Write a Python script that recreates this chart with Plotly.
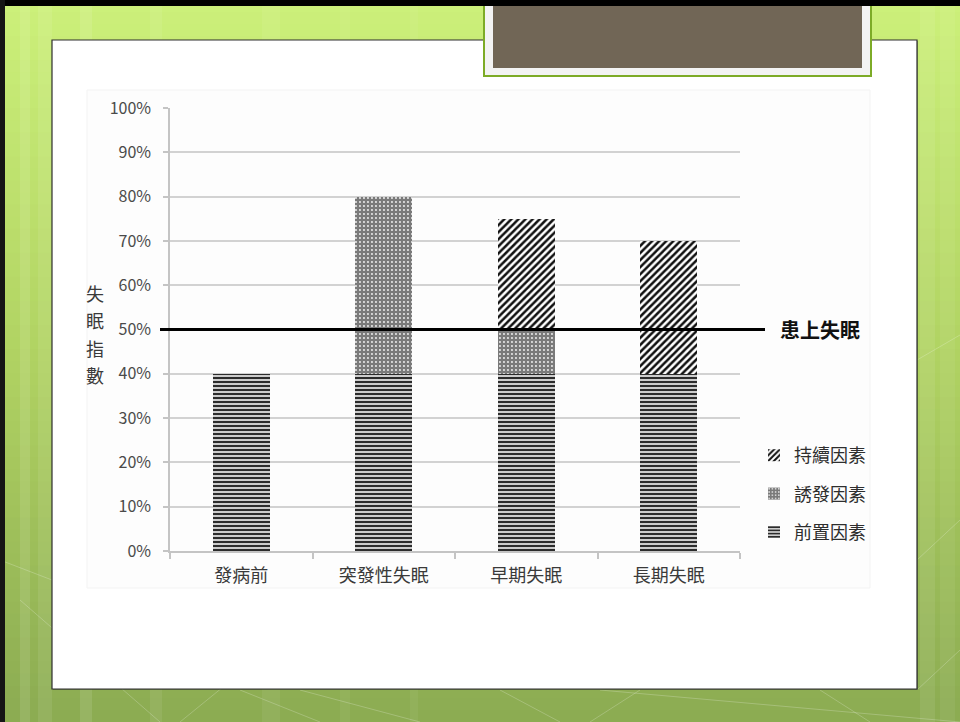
import plotly.graph_objects as go

# ---- data ----
categories = ["發病前", "突發性失眠", "早期失眠", "長期失眠"]
predisposing = [0.40, 0.40, 0.40, 0.40]   # 前置因素
precipitating = [0.00, 0.40, 0.10, 0.00]  # 誘發因素
perpetuating = [0.00, 0.00, 0.25, 0.30]   # 持續因素
onset_level = 0.50                        # 患上失眠
onset_label = "患上失眠"
y_title_chars = ["失", "眠", "指", "數"]
y_ticks = [0.0, 0.1, 0.2, 0.3, 0.4, 0.5, 0.6, 0.7, 0.8, 0.9, 1.0]
y_tick_text = ["0%", "10%", "20%", "30%", "40%", "50%", "60%", "70%", "80%", "90%", "100%"]

W, H = 960, 722
ML, MR, MT, MB = 170, 220, 108, 171
PW, PH = W - ML - MR, H - MT - MB
FONT = "Noto Sans CJK TC, Noto Sans CJK SC, sans-serif"


def px(x):
    return (x - ML) / PW


def py(y):
    return (H - MB - y) / PH


fig = go.Figure()

fig.add_bar(
    x=categories, y=predisposing, name="前置因素", legendgroup="pre", legendrank=3,
    marker=dict(color="white", line=dict(width=0),
                pattern=dict(shape="-", fgcolor="#2c2c2c", bgcolor="#f4f4f4",
                             fgopacity=1, fillmode="replace",
                             size=4, solidity=0.6)),
)
fig.add_bar(
    x=categories, y=precipitating, name="誘發因素", legendgroup="trig", legendrank=2,
    marker=dict(color="white", line=dict(width=0),
                pattern=dict(shape=".", fgcolor="#f4f4f4", bgcolor="#7a7a7a",
                             fgopacity=1, fillmode="replace",
                             size=4, solidity=0.18)),
)
fig.add_bar(
    x=categories, y=perpetuating, name="持續因素", legendgroup="keep", legendrank=1,
    marker=dict(color="white", line=dict(width=0),
                pattern=dict(shape="/", fgcolor="#111111", bgcolor="white",
                             fgopacity=1, fillmode="replace",
                             size=5, solidity=0.5)),
)

shapes = []

# slide background: vertical green gradient built from thin bands
top_c = (204, 240, 122)
mid_c = (176, 210, 98)
bot_c = (139, 171, 82)
n_bands = 60
for i in range(n_bands):
    t = (i + 0.5) / n_bands
    if t < 0.5:
        a, b, f = top_c, mid_c, t / 0.5
    else:
        a, b, f = mid_c, bot_c, (t - 0.5) / 0.5
    c = tuple(round(a[k] + (b[k] - a[k]) * f) for k in range(3))
    y0 = H * i / n_bands
    y1 = H * (i + 1) / n_bands + 1
    shapes.append(dict(type="rect", xref="paper", yref="paper", layer="below",
                       x0=px(0), x1=px(W), y0=py(y1), y1=py(y0),
                       fillcolor="rgb(%d,%d,%d)" % c, line=dict(width=0)))

# soft vertical light streaks
for x0, x1, op in [(20, 30, 0.10), (38, 52, 0.08), (80, 92, 0.10), (150, 162, 0.07),
                   (262, 280, 0.06), (340, 350, 0.05), (410, 418, 0.05),
                   (920, 935, 0.08), (940, 955, 0.06)]:
    shapes.append(dict(type="rect", xref="paper", yref="paper", layer="below",
                       x0=px(x0), x1=px(x1), y0=py(H), y1=py(0),
                       fillcolor="white", opacity=op, line=dict(width=0)))

# faint diagonal decorative lines
for (x0, y0, x1, y1) in [(20, 600, 160, 722), (180, 722, 330, 600), (300, 690, 420, 722),
                         (240, 690, 320, 722), (590, 722, 640, 690), (500, 690, 560, 722),
                         (600, 690, 960, 722), (820, 690, 870, 722), (917, 560, 960, 520),
                         (917, 360, 960, 335), (0, 560, 52, 580), (917, 690, 960, 650)]:
    shapes.append(dict(type="line", xref="paper", yref="paper", layer="below",
                       x0=px(x0), x1=px(x1), y0=py(y0), y1=py(y1),
                       line=dict(color="rgba(255,255,255,0.22)", width=1)))

# white content panel with a thin dark frame
shapes.append(dict(type="rect", xref="paper", yref="paper", layer="below",
                   x0=px(53), x1=px(918), y0=py(690), y1=py(41),
                   fillcolor="rgba(40,40,40,0.35)", line=dict(width=0)))
shapes.append(dict(type="rect", xref="paper", yref="paper", layer="below",
                   x0=px(52), x1=px(917), y0=py(689), y1=py(40),
                   fillcolor="white", line=dict(color="#2e2e2e", width=1.2)))

# faint chart-area backdrop
shapes.append(dict(type="rect", xref="paper", yref="paper", layer="below",
                   x0=px(87), x1=px(870), y0=py(588), y1=py(90),
                   fillcolor="#fdfdfd", line=dict(color="#f3f3f3", width=1)))

# title plate at the top
shapes.append(dict(type="rect", xref="paper", yref="paper", layer="below",
                   x0=px(484), x1=px(871), y0=py(76), y1=py(0),
                   fillcolor="#f3f3f3", line=dict(color="#7dab27", width=2)))
shapes.append(dict(type="rect", xref="paper", yref="paper", layer="below",
                   x0=px(493), x1=px(862), y0=py(68), y1=py(0),
                   fillcolor="#716656", line=dict(width=0)))

# dark slide edges
shapes.append(dict(type="rect", xref="paper", yref="paper", layer="below",
                   x0=px(0), x1=px(W), y0=py(6), y1=py(0),
                   fillcolor="black", line=dict(width=0)))
shapes.append(dict(type="rect", xref="paper", yref="paper", layer="below",
                   x0=px(0), x1=px(5), y0=py(H), y1=py(0),
                   fillcolor="#151515", line=dict(width=0)))

# onset threshold line
shapes.append(dict(type="line", xref="paper", yref="y", layer="above",
                   x0=px(160), x1=px(765), y0=onset_level, y1=onset_level,
                   line=dict(color="black", width=3)))

annotations = [
    dict(text=onset_label, xref="paper", yref="y", x=px(778), y=onset_level,
         xanchor="left", yanchor="middle", showarrow=False,
         font=dict(family=FONT, size=20, color="#111111", weight="bold")),
]
for ch, yc in zip(y_title_chars, [293, 320, 348, 375]):
    annotations.append(dict(text=ch, xref="paper", yref="paper", x=px(95), y=py(yc),
                            xanchor="center", yanchor="middle", showarrow=False,
                            font=dict(family=FONT, size=18, color="#3a3a3a")))

fig.update_layout(
    width=W, height=H,
    margin=dict(l=ML, r=MR, t=MT, b=MB, pad=0),
    paper_bgcolor="white",
    plot_bgcolor="rgba(0,0,0,0)",
    barmode="stack",
    bargap=0.6,
    font=dict(family=FONT, color="#404040"),
    shapes=shapes,
    annotations=annotations,
    showlegend=True,
    legend=dict(
        x=px(754), y=py(437), xanchor="left", yanchor="top",
        traceorder="grouped", tracegroupgap=12,
        bgcolor="rgba(0,0,0,0)", borderwidth=0,
        font=dict(family=FONT, size=18, color="#2e2e2e"),
        itemclick=False, itemdoubleclick=False,
    ),
    xaxis=dict(
        type="category", range=[-0.5, 3.5], showgrid=False,
        showline=True, linecolor="#c4c4c4", linewidth=1.5,
        ticks="outside", tickson="boundaries", ticklen=6, tickcolor="#c4c4c4",
        tickwidth=1.5, ticklabelstandoff=8,
        tickfont=dict(family=FONT, size=18, color="#3a3a3a"),
        fixedrange=True,
    ),
    yaxis=dict(
        range=[0, 1], tickvals=y_ticks, ticktext=y_tick_text,
        showgrid=True, gridcolor="#d2d2d2", gridwidth=1.6,
        showline=True, linecolor="#c4c4c4", linewidth=1.5,
        ticks="outside", ticklen=5, tickcolor="#c4c4c4", tickwidth=1.5,
        ticklabelstandoff=9,
        tickfont=dict(family=FONT, size=16, color="#4a4a4a"),
        zeroline=False, fixedrange=True,
    ),
)

fig.write_html("out.html", config={"displayModeBar": False})
